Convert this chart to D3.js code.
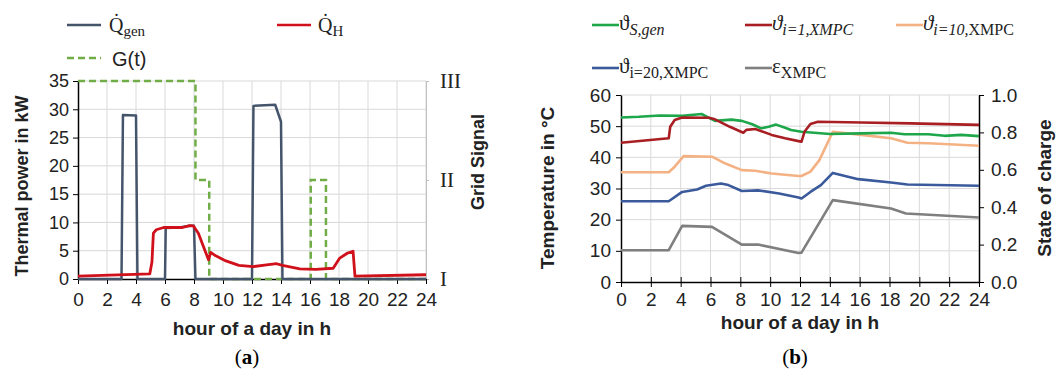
<!DOCTYPE html>
<html><head><meta charset="utf-8">
<script src="https://cdn.jsdelivr.net/npm/d3@7"></script>
<style>
body{margin:0;background:#fff;}
svg{display:block;}
</style></head>
<body>
<svg id="c" width="1058" height="377"></svg>
<script>
// ---------- data (a) ----------
const hourTicks = [0,2,4,6,8,10,12,14,16,18,20,22,24];
const powerTicks = [0,5,10,15,20,25,30,35];
const gridLevelLabels = ["I","II","III"];

const genHours  = [0, 3.0, 3.1, 4.0, 4.1, 6.0, 6.05, 7.0, 7.7, 8.0, 8.1, 12.0, 12.1, 13.6, 14.0, 14.1, 24];
const genValues = [0, 0,   29.0, 28.9, 0,  0,   9.0,  9.1, 9.4, 9.4, 0,   0,    30.6, 30.8, 27.8, 0,    0];

const heatHours  = [0, 4.95, 5.1, 5.2, 5.4, 5.9, 7.2, 7.7, 7.95, 8.3, 9.0, 9.15, 9.5, 10.2, 11.1, 12.1, 13.0, 13.7, 14.1, 15.3, 16.4, 17.6, 18.05, 18.6, 18.97, 19.1, 24];
const heatValues = [0.5, 0.9, 3.0, 8.1, 8.7, 9.1, 9.1, 9.45, 9.4, 8.1, 3.4, 4.7, 4.1, 3.2, 2.4, 2.2, 2.5, 2.7, 2.4, 1.8, 1.7, 1.9, 3.7, 4.6, 4.9, 0.5, 0.75];

const gridHours  = [0, 8.1, 8.1, 9.05, 9.05, 16.05, 16.05, 17.1, 17.1, 24];
const gridLevels = [2, 2,   1,   1,    0,    0,     1,     1,    0,    0];

// ---------- data (b) ----------
const tempTicks = [0,10,20,30,40,50,60];
const socTicks = [0,0.2,0.4,0.6,0.8,1.0];

const sGenHours  = [0, 1.2, 2.6, 4.1, 5.4, 6.1, 6.3, 7.4, 8.1, 8.8, 9.4, 9.9, 10.4, 11.0, 11.4, 12.1, 14.0, 16.1, 18.1, 19.0, 20.6, 21.7, 22.8, 24];
const sGenTemps  = [52.8, 53.0, 53.4, 53.3, 53.9, 52.2, 51.7, 52.1, 51.7, 50.6, 49.3, 49.8, 50.5, 49.5, 48.8, 48.2, 47.5, 47.7, 47.9, 47.4, 47.4, 46.9, 47.2, 46.8];

const i1Hours = [0, 3.2, 3.3, 3.6, 4.1, 5.9, 6.3, 7.3, 8.2, 8.4, 9.0, 10.1, 11.0, 11.9, 12.1, 12.3, 12.7, 13.2, 16.1, 19.4, 24];
const i1Temps = [44.7, 46.1, 49.8, 52.0, 52.8, 52.7, 52.2, 49.8, 47.9, 48.8, 49.1, 47.2, 46.1, 45.2, 45.0, 48.2, 50.7, 51.4, 51.2, 50.9, 50.4];

const i10Hours = [0, 3.2, 3.6, 4.2, 6.1, 7.0, 8.1, 9.0, 10.1, 11.9, 12.1, 12.7, 13.3, 14.2, 16.1, 18.1, 19.2, 20.6, 24];
const i10Temps = [35.2, 35.2, 37.0, 40.4, 40.2, 38.0, 35.9, 35.7, 34.8, 34.0, 34.0, 35.4, 39.1, 48.2, 47.2, 46.1, 44.7, 44.5, 43.7];

const i20Hours = [0, 3.2, 4.1, 5.1, 5.7, 6.7, 7.2, 8.1, 9.2, 10.6, 11.9, 12.1, 12.7, 13.4, 14.2, 15.9, 18.1, 19.2, 24];
const i20Temps = [25.9, 25.9, 28.9, 29.7, 30.9, 31.6, 31.1, 29.2, 29.4, 28.4, 27.1, 26.8, 28.9, 31.1, 35.0, 33.0, 31.9, 31.3, 30.9];

const socHours  = [0, 3.2, 4.1, 6.1, 8.1, 9.2, 11.9, 12.1, 14.2, 18.1, 19.1, 24];
const socValues = [0.17, 0.17, 0.30, 0.295, 0.20, 0.20, 0.155, 0.157, 0.438, 0.393, 0.366, 0.345];

const zip = (a,b) => a.map((v,i)=>[v,b[i]]);

const svg = d3.select("#c");
const SANS = "'Liberation Sans', Arial, sans-serif";
const SERIF = "'Liberation Serif', 'Times New Roman', serif";
const GRID = "#d9d9d9";

// ================= chart (a) =================
{
  const x = d3.scaleLinear().domain([0,24]).range([78,426]);
  const y = d3.scaleLinear().domain([0,35]).range([279,81]);
  const g3 = d3.scaleLinear().domain([0,2]).range([279,81]);
  const g = svg.append("g");

  g.append("g").selectAll("line").data(hourTicks.slice(1)).join("line")
    .attr("x1",d=>x(d)).attr("x2",d=>x(d)).attr("y1",y(0)).attr("y2",y(35))
    .attr("stroke",GRID).attr("stroke-width",1);
  g.append("g").selectAll("line").data(powerTicks.slice(1)).join("line")
    .attr("x1",x(0)).attr("x2",x(24)).attr("y1",d=>y(d)).attr("y2",d=>y(d))
    .attr("stroke",GRID).attr("stroke-width",1);

  const ra = g.append("g").attr("transform",`translate(${x(24)},0)`)
    .call(d3.axisRight(g3).tickValues([0,1,2]).tickFormat(()=>"").tickSize(3).tickSizeOuter(0));
  ra.select(".domain").attr("stroke","#bfbfbf");
  ra.selectAll(".tick line").attr("stroke","#bfbfbf");
  g.append("g").selectAll("text").data([0,1,2]).join("text")
    .attr("x",440).attr("y",d=>g3(d)+7).attr("font-family",SERIF).attr("font-size",21)
    .attr("fill","#222").text(d=>gridLevelLabels[d]);

  const la = g.append("g").attr("transform",`translate(${x(0)},0)`)
    .call(d3.axisLeft(y).tickValues(powerTicks).tickSize(5).tickSizeOuter(0).tickPadding(4));
  la.select(".domain").attr("stroke","#000").attr("stroke-width",1.5);
  la.selectAll("text").attr("font-family",SANS).attr("font-size",18).attr("fill","#222");
  const ba = g.append("g").attr("transform",`translate(0,${y(0)})`)
    .call(d3.axisBottom(x).tickValues(hourTicks).tickSize(5).tickSizeOuter(0).tickPadding(9));
  ba.select(".domain").attr("stroke","#000").attr("stroke-width",1.5);
  ba.selectAll("text").attr("font-family",SANS).attr("font-size",19).attr("fill","#222");

  const line = d3.line().x(d=>x(d[0])).y(d=>y(d[1]));
  g.append("path").datum(zip(gridHours,gridLevels))
    .attr("d", d3.line().x(d=>x(d[0])).y(d=>g3(d[1])))
    .attr("fill","none").attr("stroke","#70ad47").attr("stroke-width",2.5).attr("stroke-dasharray","7,4");
  g.append("path").datum(zip(genHours,genValues)).attr("d",line)
    .attr("fill","none").attr("stroke","#44546a").attr("stroke-width",2.5).attr("stroke-linejoin","round");
  g.append("path").datum(zip(heatHours,heatValues)).attr("d",line)
    .attr("fill","none").attr("stroke","#d0101a").attr("stroke-width",2.8).attr("stroke-linejoin","round");

  g.append("text").attr("transform","translate(28,186) rotate(-90)").attr("text-anchor","middle")
    .attr("font-family",SANS).attr("font-weight","bold").attr("font-size",18).attr("fill","#222")
    .text("Thermal power in kW");
  g.append("text").attr("transform","translate(484,162) rotate(-90)").attr("text-anchor","middle")
    .attr("font-family",SANS).attr("font-weight","bold").attr("font-size",18).attr("fill","#222")
    .text("Grid Signal");
  g.append("text").attr("x",252).attr("y",335).attr("text-anchor","middle")
    .attr("font-family",SANS).attr("font-weight","bold").attr("font-size",19).attr("fill","#222")
    .text("hour of a day in h");

  const lg = g.append("g");
  lg.append("line").attr("x1",67).attr("x2",101).attr("y1",25).attr("y2",25).attr("stroke","#44546a").attr("stroke-width",2.5);
  const t1 = lg.append("text").attr("x",109).attr("y",32).attr("font-family",SERIF).attr("font-size",20).attr("fill","#222");
  t1.append("tspan").text("Q\u0307");
  t1.append("tspan").attr("font-size",15).attr("dy",4).text("gen");
  lg.append("line").attr("x1",277).attr("x2",311).attr("y1",25).attr("y2",25).attr("stroke","#d0101a").attr("stroke-width",2.5);
  const t2 = lg.append("text").attr("x",318).attr("y",32).attr("font-family",SERIF).attr("font-size",20).attr("fill","#222");
  t2.append("tspan").text("Q\u0307");
  t2.append("tspan").attr("font-size",15).attr("dy",4).text("H");
  lg.append("line").attr("x1",67).attr("x2",101).attr("y1",58).attr("y2",58).attr("stroke","#70ad47").attr("stroke-width",2.5).attr("stroke-dasharray","7,4");
  lg.append("text").attr("x",112).attr("y",66).attr("font-family",SANS).attr("font-size",20).attr("fill","#222").text("G(t)");

  const ta = g.append("text").attr("x",247).attr("y",364).attr("text-anchor","middle")
    .attr("font-family",SERIF).attr("font-size",21).attr("fill","#000");
  ta.append("tspan").text("(");
  ta.append("tspan").attr("font-weight","bold").text("a");
  ta.append("tspan").text(")");
}

// ================= chart (b) =================
{
  const x = d3.scaleLinear().domain([0,24]).range([621,979]);
  const y = d3.scaleLinear().domain([0,60]).range([282,95]);
  const s = d3.scaleLinear().domain([0,1]).range([282,95]);
  const g = svg.append("g");

  g.append("g").selectAll("line").data(hourTicks.slice(1,-1)).join("line")
    .attr("x1",d=>x(d)).attr("x2",d=>x(d)).attr("y1",y(0)).attr("y2",y(60))
    .attr("stroke",GRID).attr("stroke-width",1);
  g.append("g").selectAll("line").data(tempTicks.slice(1)).join("line")
    .attr("x1",x(0)).attr("x2",x(24)).attr("y1",d=>y(d)).attr("y2",d=>y(d))
    .attr("stroke",GRID).attr("stroke-width",1);

  const la = g.append("g").attr("transform",`translate(${x(0)},0)`)
    .call(d3.axisLeft(y).tickValues(tempTicks).tickSize(5).tickSizeOuter(0).tickPadding(5));
  la.select(".domain").attr("stroke","#000").attr("stroke-width",1.5);
  la.selectAll("text").attr("font-family",SANS).attr("font-size",19).attr("fill","#222");
  const ra = g.append("g").attr("transform",`translate(${x(24)},0)`)
    .call(d3.axisRight(s).tickValues(socTicks).tickFormat(d3.format(".1f")).tickSize(5).tickSizeOuter(0).tickPadding(7));
  ra.select(".domain").attr("stroke","#000").attr("stroke-width",1.5);
  ra.selectAll("text").attr("font-family",SANS).attr("font-size",19).attr("fill","#222");
  const ba = g.append("g").attr("transform",`translate(0,${y(0)})`)
    .call(d3.axisBottom(x).tickValues(hourTicks).tickSize(5).tickSizeOuter(0).tickPadding(6));
  ba.selectAll(".tick line").attr("y1",-5);
  ba.select(".domain").attr("stroke","#000").attr("stroke-width",1.5);
  ba.selectAll("text").attr("font-family",SANS).attr("font-size",19).attr("fill","#222");

  const lt = d3.line().x(d=>x(d[0])).y(d=>y(d[1]));
  const ls = d3.line().x(d=>x(d[0])).y(d=>s(d[1]));
  const series = [
    [zip(socHours,socValues), ls, "#7f7f7f"],
    [zip(i20Hours,i20Temps), lt, "#3a5a9c"],
    [zip(i10Hours,i10Temps), lt, "#f4b183"],
    [zip(sGenHours,sGenTemps), lt, "#1ea64b"],
    [zip(i1Hours,i1Temps), lt, "#a81e22"]
  ];
  series.forEach(([d,gen,c])=>{
    g.append("path").datum(d).attr("d",gen).attr("fill","none").attr("stroke",c)
      .attr("stroke-width",2.6).attr("stroke-linejoin","round");
  });

  g.append("text").attr("transform","translate(554,188) rotate(-90)").attr("text-anchor","middle")
    .attr("font-family",SANS).attr("font-weight","bold").attr("font-size",19).attr("fill","#222")
    .text("Temperature in °C");
  g.append("text").attr("transform","translate(1051,188) rotate(-90)").attr("text-anchor","middle")
    .attr("font-family",SANS).attr("font-weight","bold").attr("font-size",19).attr("fill","#222")
    .text("State of charge");
  g.append("text").attr("x",800).attr("y",329).attr("text-anchor","middle")
    .attr("font-family",SANS).attr("font-weight","bold").attr("font-size",19).attr("fill","#222")
    .text("hour of a day in h");

  const items = [
    {x:592,y:25,c:"#1ea64b",sub:[["S,gen",true]]},
    {x:745,y:25,c:"#a81e22",sub:[["i=1,XMPC",true]],italicMain:true},
    {x:896,y:25,c:"#f4b183",sub:[["i=10,",true],["XMPC",false]],italicMain:true},
    {x:592,y:68,c:"#3a5a9c",sub:[["i=20,XMPC",false]]},
    {x:745,y:68,c:"#7f7f7f",sub:[["XMPC",false]],main:"\u03b5"}
  ];
  items.forEach(it=>{
    g.append("line").attr("x1",it.x).attr("x2",it.x+27).attr("y1",it.y).attr("y2",it.y)
      .attr("stroke",it.c).attr("stroke-width",2.6);
    const t = g.append("text").attr("x",it.x+27).attr("y",it.y+5).attr("font-family",SERIF)
      .attr("font-size",21).attr("fill","#222");
    t.append("tspan").attr("font-style",it.italicMain?"italic":"normal").text(it.main||"\u03d1");
    it.sub.forEach(([txt,ital],k)=>{
      const ts = t.append("tspan").attr("font-size",16).attr("font-style",ital?"italic":"normal").text(txt);
      if(k===0) ts.attr("dy",5);
    });
  });

  const tb = g.append("text").attr("x",795).attr("y",364).attr("text-anchor","middle")
    .attr("font-family",SERIF).attr("font-size",21).attr("fill","#000");
  tb.append("tspan").text("(");
  tb.append("tspan").attr("font-weight","bold").text("b");
  tb.append("tspan").text(")");
}
</script>
</body></html>
